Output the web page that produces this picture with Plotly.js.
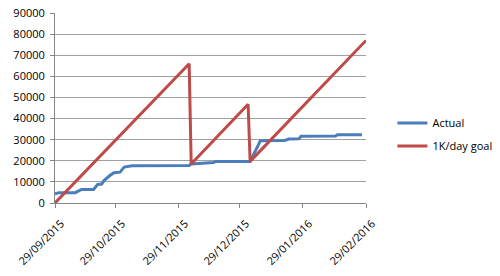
<!DOCTYPE html>
<html>
<head>
<meta charset="utf-8">
<script src="https://cdn.plot.ly/plotly-3.0.1.min.js"></script>
<style>html,body{margin:0;padding:0;background:#fff;}#chart{width:500px;height:276px;}</style>
</head>
<body>
<div id="chart"></div>
<script>
// Actual progress
var actualDates = ['2015-09-29','2015-10-01','2015-10-09','2015-10-12','2015-10-18','2015-10-20','2015-10-22','2015-10-23','2015-10-26','2015-10-28','2015-10-31','2015-11-02','2015-11-06','2015-12-04','2015-12-05','2015-12-16','2015-12-17','2016-01-03','2016-01-07','2016-01-08','2016-01-20','2016-01-22','2016-01-27','2016-01-28','2016-02-14','2016-02-15','2016-02-27'];
var actualValues = [4300,4900,4900,6400,6400,8800,9000,10500,13000,14300,14600,17000,17600,17800,18500,19200,19700,19700,27400,29500,29600,30300,30400,31600,31700,32300,32300];

// 1K/day goal line (break points)
var goalDates = ['2015-09-29','2015-12-04','2015-12-05','2016-01-02','2016-01-03','2016-02-29'];
var goalValues = [0,66000,18500,46800,19700,77000];

// x axis tick labels
var tickDates = ['2015-09-29','2015-10-29','2015-11-29','2015-12-29','2016-01-29','2016-02-29'];
var tickLabels = ['29/09/2015','29/10/2015','29/11/2015','29/12/2015','29/01/2016','29/02/2016'];

var font = {family: 'Open Sans, DejaVu Sans, sans-serif', size: 11, color: '#000'};

var traces = [
  {x: actualDates, y: actualValues, name: 'Actual', type: 'scatter', mode: 'lines',
   legendgroup: 'a', line: {color: '#4A7EBB', width: 3}},
  {x: goalDates, y: goalValues, name: '1K/day goal', type: 'scatter', mode: 'lines',
   legendgroup: 'b', line: {color: '#BE4B48', width: 3}}
];

var layout = {
  width: 500, height: 276,
  margin: {l: 55, r: 134, t: 13, b: 73, autoexpand: false},
  paper_bgcolor: '#fff', plot_bgcolor: '#fff',
  font: font,
  showlegend: true,
  legend: {x: 1.085, xanchor: 'left', y: 0.36, yanchor: 'middle', font: font,
           bgcolor: 'rgba(0,0,0,0)', traceorder: 'grouped', tracegroupgap: 4},
  xaxis: {type: 'date', range: ['2015-09-29','2016-02-29'],
          tickvals: tickDates, ticktext: tickLabels, tickangle: -45,
          showgrid: false, zeroline: false, automargin: false,
          showline: true, linecolor: '#868686', linewidth: 1,
          ticks: 'outside', ticklen: 4, tickcolor: '#868686',
          ticklabelstandoff: 5, ticklabelshift: 6, tickfont: font},
  yaxis: {range: [0, 90000], dtick: 10000, tickformat: 'd', automargin: false,
          showgrid: true, gridcolor: '#A0A0A0', gridwidth: 1,
          zeroline: false, showline: true, linecolor: '#868686', linewidth: 1,
          ticks: 'outside', ticklen: 4, tickcolor: '#868686',
          ticklabelstandoff: 3, tickfont: font}
};

Plotly.newPlot('chart', traces, layout, {displayModeBar: false, staticPlot: true});
</script>
</body>
</html>
